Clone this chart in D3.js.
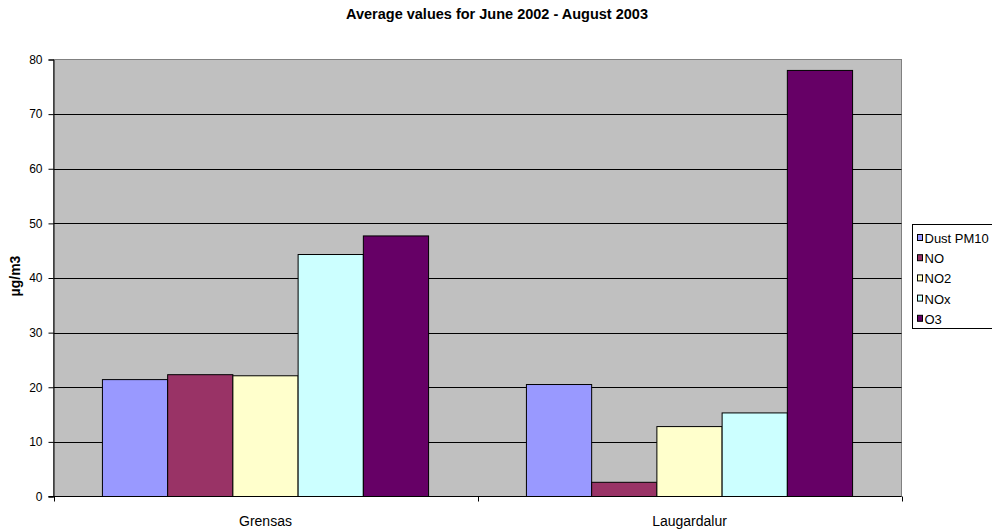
<!DOCTYPE html>
<html>
<head>
<meta charset="utf-8">
<script src="https://cdn.jsdelivr.net/npm/d3@7"></script>
<style>
  html, body { margin: 0; padding: 0; background: #fff; }
  svg { display: block; font-family: Arial, "Liberation Sans", sans-serif; }
</style>
</head>
<body>
<svg id="chart" width="992" height="529"></svg>
<script>
// Station names along the x axis
const stations = ["Grensas", "Laugardalur"];
// Pollutant series, in legend order
const pollutants = ["Dust PM10", "NO", "NO2", "NOx", "O3"];
// Average concentration (µg/m3) per pollutant, one value per station
const dustPM10 = [21.4, 20.5];
const no = [22.3, 2.6];
const no2 = [22.1, 12.8];
const nox = [44.3, 15.3];
const o3 = [47.7, 78.0];
const yTicks = [0, 10, 20, 30, 40, 50, 60, 70, 80];
const colors = ["#9999FF", "#993366", "#FFFFCC", "#CCFFFF", "#660066"];

const seriesValues = [dustPM10, no, no2, nox, o3];
const rows = [];
stations.forEach((s, i) => {
  pollutants.forEach((p, j) => rows.push({ station: s, pollutant: p, value: seriesValues[j][i] }));
});

const svg = d3.select("#chart");
const plot = { left: 53.5, top: 59.5, right: 901.5, bottom: 496.5 };

const x0 = d3.scaleBand().domain(stations).range([plot.left, plot.right]).paddingInner(0).paddingOuter(0);
// Five bars per group with a 150% gap between groups
const x1 = d3.scaleBand().domain(pollutants)
  .range([0, x0.bandwidth()]).paddingInner(0).paddingOuter(0.75);
const y = d3.scaleLinear().domain([0, 80]).range([plot.bottom, plot.top]);
const color = d3.scaleOrdinal().domain(pollutants).range(colors);

// Title
svg.append("text")
  .attr("x", 497).attr("y", 18.5)
  .attr("text-anchor", "middle")
  .attr("font-size", 14.5).attr("font-weight", "bold")
  .attr("fill", "#000")
  .text("Average values for June 2002 - August 2003");

// Plot background
svg.append("rect")
  .attr("x", plot.left).attr("y", plot.top)
  .attr("width", plot.right - plot.left).attr("height", plot.bottom - plot.top)
  .attr("fill", "#C0C0C0").attr("stroke", "#808080").attr("stroke-width", 1);

// Horizontal gridlines
svg.append("g").selectAll("line")
  .data(yTicks.filter(t => t > 0 && t < 80))
  .join("line")
  .attr("x1", plot.left).attr("x2", plot.right)
  .attr("y1", d => Math.round(y(d)) + 0.5).attr("y2", d => Math.round(y(d)) + 0.5)
  .attr("stroke", "#000").attr("stroke-width", 1);

// Bars
svg.append("g").selectAll("rect")
  .data(rows)
  .join("rect")
  .attr("x", d => x0(d.station) + x1(d.pollutant))
  .attr("y", d => y(d.value))
  .attr("width", x1.bandwidth())
  .attr("height", d => y(0) - y(d.value))
  .attr("fill", d => color(d.pollutant))
  .attr("stroke", "#000").attr("stroke-width", 1);

// Y axis
const yAxis = svg.append("g")
  .attr("transform", `translate(${plot.left},0)`)
  .call(d3.axisLeft(y).tickValues(yTicks).tickSize(5).tickPadding(6).tickFormat(d3.format("d")));
yAxis.select(".domain").attr("stroke", "#000");
yAxis.selectAll(".tick line").attr("stroke", "#000");
yAxis.selectAll(".tick text").attr("font-size", 12).attr("fill", "#000")
  .attr("font-family", "Arial, 'Liberation Sans', sans-serif");

// X axis: ticks sit between the station groups
const xAxis = svg.append("g")
  .attr("transform", `translate(0,${plot.bottom})`);
xAxis.append("line")
  .attr("x1", plot.left - 5).attr("x2", plot.right)
  .attr("stroke", "#000");
const sepTicks = stations.map(s => x0(s)).concat([x0(stations[stations.length - 1]) + x0.bandwidth()]);
xAxis.selectAll("line.sep")
  .data(sepTicks)
  .join("line").attr("class", "sep")
  .attr("x1", d => Math.round(d) + 0.5).attr("x2", d => Math.round(d) + 0.5)
  .attr("y1", 0).attr("y2", 5)
  .attr("stroke", "#000");
xAxis.selectAll("text")
  .data(stations)
  .join("text")
  .attr("x", d => x0(d) + x0.bandwidth() / 2)
  .attr("y", 29)
  .attr("text-anchor", "middle")
  .attr("font-size", 14).attr("fill", "#000")
  .text(d => d);

// Y axis title
svg.append("text")
  .attr("transform", "translate(20,276) rotate(-90)")
  .attr("text-anchor", "middle")
  .attr("font-size", 14).attr("font-weight", "bold")
  .attr("fill", "#000")
  .text("µg/m3");

// Legend
const legend = svg.append("g");
legend.append("rect")
  .attr("x", 912.5).attr("y", 224.5)
  .attr("width", 90).attr("height", 104)
  .attr("fill", "#fff").attr("stroke", "#000");
const items = legend.selectAll("g.item")
  .data(pollutants)
  .join("g").attr("class", "item")
  .attr("transform", (d, i) => `translate(917,${238 + i * 20.2})`);
items.append("rect")
  .attr("x", 0.5).attr("y", -3.5)
  .attr("width", 5).attr("height", 6)
  .attr("fill", d => color(d)).attr("stroke", "#000");
items.append("text")
  .attr("x", 7.5).attr("y", 5)
  .attr("font-size", 13).attr("fill", "#000")
  .text(d => d);
</script>
</body>
</html>
